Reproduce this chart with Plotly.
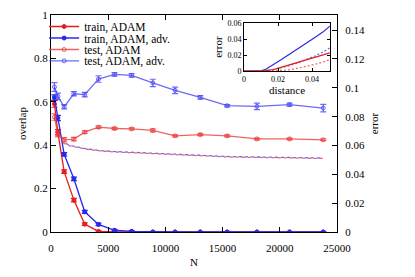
import plotly.graph_objects as go

# ---- data ----
N = [300, 600, 1150, 2000, 2950, 4150, 5550, 7050, 8900, 10850, 13050, 15400, 18000, 20850, 23800]
train_adam = [0.59, 0.46, 0.278, 0.147, 0.036, 0.003, 0.0, 0.0, 0.0, 0.0, 0.0, 0.0, 0.0, 0.0, 0.0]
train_adam_err = [0.015, 0.012, 0.008, 0.008, 0.006, 0.004, 0.003, 0.002, 0.002, 0.002, 0.002, 0.002, 0.002, 0.002, 0.002]
train_adv = [0.62, 0.525, 0.358, 0.245, 0.093, 0.035, 0.008, 0.003, 0.0, 0.0, 0.0, 0.0, 0.0, 0.0, 0.0]
train_adv_err = [0.012, 0.012, 0.008, 0.008, 0.007, 0.006, 0.004, 0.003, 0.002, 0.002, 0.002, 0.002, 0.002, 0.002, 0.002]
test_adam = [0.53, 0.45, 0.425, 0.428, 0.46, 0.483, 0.477, 0.475, 0.468, 0.443, 0.449, 0.443, 0.429, 0.429, 0.425]
test_adam_err = [0.015, 0.012, 0.01, 0.008, 0.006, 0.006, 0.005, 0.005, 0.007, 0.005, 0.005, 0.005, 0.004, 0.004, 0.004]
test_adv = [0.668, 0.625, 0.577, 0.637, 0.633, 0.705, 0.726, 0.722, 0.687, 0.653, 0.62, 0.582, 0.579, 0.587, 0.571]
test_adv_err = [0.02, 0.015, 0.01, 0.01, 0.01, 0.015, 0.008, 0.008, 0.017, 0.015, 0.008, 0.005, 0.015, 0.007, 0.017]

N_err_adam = [1050, 1660, 2970, 4280, 5600, 7780, 10400, 13000, 15650, 18270, 20900, 23780]
err_adam = [0.0618, 0.0597, 0.0576, 0.0562, 0.0555, 0.0548, 0.0538, 0.0527, 0.0520, 0.0517, 0.0514, 0.0510]
N_err_adv = [1310, 1660, 2970, 4280, 5600, 7780, 10400, 13000, 15650, 18270, 20900, 23780]
err_adv = [0.0614, 0.0600, 0.0579, 0.0565, 0.0558, 0.0551, 0.0541, 0.0530, 0.0523, 0.0520, 0.0517, 0.0513]

dist = [0, 0.005, 0.01, 0.0123, 0.0172, 0.0215, 0.0269, 0.0318, 0.0367, 0.0416, 0.0465, 0.0504]
ins_adv = [0, 0, 0.0005, 0.0019, 0.0081, 0.014, 0.0215, 0.028, 0.0352, 0.042, 0.049, 0.056]
ins_adv_dot = [0, 0, 0, 0.0005, 0.002, 0.004, 0.007, 0.0105, 0.0144, 0.019, 0.024, 0.029]
ins_adam = [0, 0, 0, 0.0008, 0.0019, 0.0045, 0.0081, 0.011, 0.0144, 0.0175, 0.0205, 0.0228]
ins_adam_dot = [0, 0, 0, 0, 0.0003, 0.001, 0.0019, 0.0038, 0.006, 0.0085, 0.0115, 0.0144]

x_ticks = [0, 5000, 10000, 15000, 20000, 25000]
y_ticks = [0, 0.2, 0.4, 0.6, 0.8, 1]
y2_ticks = [0, 0.02, 0.04, 0.06, 0.08, 0.1, 0.12, 0.14]

RED = "rgb(228,30,30)"
RED_L = "rgba(235,60,60,0.8)"
BLUE = "rgb(40,40,235)"
BLUE_L = "rgba(70,70,245,0.8)"
FONT = "Liberation Serif"

fig = go.Figure()

def series(y, err, name, color, symbol, legend):
    fig.add_trace(go.Scatter(
        x=N, y=y, name=name, mode="lines+markers", legend=legend,
        line=dict(color=color, width=1.3),
        marker=dict(color=color, size=4, symbol=symbol, line=dict(color=color, width=1)),
        error_y=dict(type="data", array=err, color=color, thickness=1.2, width=3),
        xaxis="x", yaxis="y"))

series(train_adam, train_adam_err, "train, ADAM", RED, "circle", "legend")
series(train_adv, train_adv_err, "train, ADAM, adv.", BLUE, "circle", "legend2")
series(test_adam, test_adam_err, "test, ADAM", RED_L, "circle-open", "legend3")
series(test_adv, test_adv_err, "test, ADAM, adv.", BLUE_L, "circle-open", "legend4")

fig.add_trace(go.Scatter(x=N_err_adam, y=err_adam, mode="lines", showlegend=False,
                         line=dict(color=RED_L, width=1.3, dash="3px,3px"), xaxis="x", yaxis="y2"))
fig.add_trace(go.Scatter(x=N_err_adv, y=err_adv, mode="lines", showlegend=False,
                         line=dict(color=BLUE_L, width=1.3, dash="3px,3px"), xaxis="x", yaxis="y2"))

# inset
fig.add_trace(go.Scatter(x=dist, y=ins_adv, mode="lines", showlegend=False,
                         line=dict(color=BLUE, width=1.2), xaxis="x3", yaxis="y3"))
fig.add_trace(go.Scatter(x=dist, y=ins_adv_dot, mode="lines", showlegend=False,
                         line=dict(color=BLUE_L, width=1.2, dash="2px,2px"), xaxis="x3", yaxis="y3"))
fig.add_trace(go.Scatter(x=dist, y=ins_adam, mode="lines", showlegend=False,
                         line=dict(color=RED, width=1.2), xaxis="x3", yaxis="y3"))
fig.add_trace(go.Scatter(x=dist, y=ins_adam_dot, mode="lines", showlegend=False,
                         line=dict(color=RED_L, width=1.2, dash="2px,2px"), xaxis="x3", yaxis="y3"))

ax_common = dict(showline=True, linecolor="black", linewidth=1, ticks="inside",
                 tickcolor="black", ticklen=5, showgrid=False, zeroline=False,
                 tickfont=dict(family=FONT, size=11, color="black"))

def leg(yp):
    return dict(x=-0.024, y=yp, xanchor="left", yanchor="middle",
                bgcolor="rgba(0,0,0,0)", font=dict(family=FONT, size=11.5),
                itemwidth=30, tracegroupgap=0)

# page body has an 8px default margin, so margins are reduced by 8px on left/top
fig.update_layout(
    width=415, height=277,
    margin=dict(l=43, r=86, t=7, b=53, autoexpand=False),
    paper_bgcolor="white", plot_bgcolor="white",
    font=dict(family=FONT, size=11, color="black"),
    xaxis=dict(**ax_common, range=[0, 25000], tickvals=x_ticks,
               ticktext=[str(v) for v in x_ticks], mirror="ticks", ticklabelstandoff=6,
               title=dict(text="N", font=dict(family=FONT, size=11), standoff=5),
               domain=[0, 1]),
    yaxis=dict(**ax_common, range=[0, 1], tickvals=y_ticks,
               ticktext=["0", "0.2", "0.4", "0.6", "0.8", "1"],
               title=dict(text="overlap", font=dict(family=FONT, size=11), standoff=5)),
    yaxis2=dict(**ax_common, range=[0, 0.1505], tickvals=y2_ticks,
                ticktext=["0", "0.02", "0.04", "0.06", "0.08", "0.1", "0.12", "0.14"],
                overlaying="y", side="right", ticklabelstandoff=5,
                title=dict(text="error", font=dict(family=FONT, size=11), standoff=6)),
    xaxis3=dict(showline=True, linecolor="black", linewidth=1, mirror="ticks", ticks="inside",
                ticklen=3, tickcolor="black", showgrid=False, zeroline=False,
                range=[0, 0.0505], tickvals=[0, 0.02, 0.04], ticktext=["0", "0.02", "0.04"],
                tickfont=dict(family=FONT, size=8, color="black"),
                title=dict(text="distance", font=dict(family=FONT, size=11), standoff=0),
                domain=[0.675, 0.9755], anchor="y3"),
    yaxis3=dict(showline=True, linecolor="black", linewidth=1, mirror="ticks", ticks="inside",
                ticklen=3, tickcolor="black", showgrid=False, zeroline=False,
                range=[0, 0.06], tickvals=[0, 0.02, 0.04, 0.06], ticktext=["0", "0.02", "0.04", "0.06"],
                tickfont=dict(family=FONT, size=8, color="black"),
                title=dict(text="error", font=dict(family=FONT, size=11), standoff=2),
                domain=[0.741, 0.963], anchor="x3"),
    legend=leg(0.947),
    legend2=leg(0.894),
    legend3=leg(0.841),
    legend4=leg(0.789),
    showlegend=True,
)

fig.write_html("out.html")
